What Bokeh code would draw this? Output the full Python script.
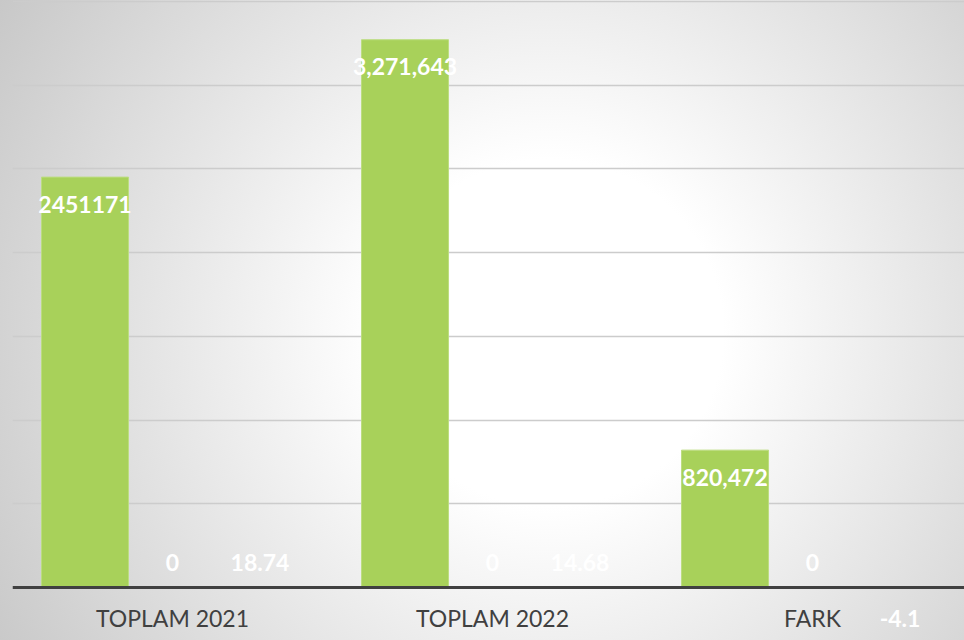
from bokeh.plotting import figure
from bokeh.models import ColumnDataSource, FixedTicker, Range1d, LabelSet
from bokeh.core.properties import value
from bokeh.embed import file_html
from bokeh.resources import INLINE

# ---- data ----
categories = ["TOPLAM 2021", "TOPLAM 2022", "FARK"]
series_a = [2451171, 3271643, 820472]
series_b = [0, 0, 0]
series_c = [18.74, 14.68, -4.1]
labels_a = ["2451171", "3,271,643", "820,472"]
labels_b = ["0", "0", "0"]
labels_c = ["18.74", "14.68", "-4.1"]
y_ticks = [0, 500000, 1000000, 1500000, 2000000, 2500000, 3000000, 3500000]

# ---- layout ----
W, H = 964, 640
GROUP_PX = 320.0
FRAME_LEFT = 12
BASE_PX = 587          # page y of the zero line
frame_w = W - FRAME_LEFT
px_per_unit_y = 586.0 / 3500000.0
y_end = BASE_PX / px_per_unit_y
y_start = -(H - BASE_PX) / px_per_unit_y
x_start = -0.5
x_end = x_start + frame_w / GROUP_PX

offsets = [-0.2734, 0.0, 0.2734]
bar_w = 0.272

GREEN = "#a8d15a"
GREEN_EDGE = "#bcdd80"

p = figure(width=W, height=H, output_backend="svg", toolbar_location=None,
           x_range=Range1d(x_start, x_end), y_range=Range1d(y_start, y_end),
           min_border_left=FRAME_LEFT, min_border_right=0, min_border_top=0,
           min_border_bottom=0)
p.background_fill_alpha = 0
p.border_fill_alpha = 0
p.outline_line_color = None

xs, tops, txt, yoff = [], [], [], []
for s_idx, (vals, labs) in enumerate([(series_a, labels_a), (series_b, labels_b), (series_c, labels_c)]):
    for g, (v, lab) in enumerate(zip(vals, labs)):
        xs.append(g + offsets[s_idx])
        tops.append(v)
        txt.append(lab)
        hpx = v * px_per_unit_y
        if hpx > 40:
            yoff.append(-27)   # inside the bar, below its top
        elif v >= 0:
            yoff.append(25)    # just above the baseline
        else:
            yoff.append(-31)   # below the axis

src = ColumnDataSource(dict(x=xs, top=tops, text=txt, yoff=yoff))

p.vbar(x="x", top="top", bottom=0, width=bar_w, source=src,
       fill_color=GREEN, line_color=GREEN_EDGE, line_width=1)

labels = LabelSet(x="x", y="top", text="text", y_offset="yoff", source=src,
                  text_color="white", text_font=value("Lato"), text_font_style="bold",
                  text_font_size="23px", text_align="center", text_baseline="middle")
p.add_layout(labels)

p.yaxis.visible = False
p.xgrid.visible = False
p.ygrid.ticker = FixedTicker(ticks=y_ticks[1:])
p.ygrid.grid_line_color = "#cccccc"
p.ygrid.grid_line_width = 1.5

xa = p.xaxis[0]
xa.fixed_location = 0
xa.ticker = FixedTicker(ticks=[0, 1, 2])
xa.major_label_overrides = {i: c for i, c in enumerate(categories)}
xa.axis_line_color = "#404040"
xa.axis_line_width = 3
xa.major_tick_line_color = None
xa.minor_tick_line_color = None
xa.major_tick_out = 0
xa.major_tick_in = 0
xa.major_label_standoff = 16
xa.major_label_text_font = "Lato"
xa.major_label_text_font_size = "23px"
xa.major_label_text_color = "#404040"

template = """
{% block preamble %}
<style>
html { min-height: 100%; background: radial-gradient(circle farthest-corner at 57% 52%, #ffffff 0%, #ffffff 27%, #c8c8c8 100%) fixed; }
body { background: transparent; margin: 0; }
</style>
{% endblock %}
"""

open("out.html", "w").write(file_html(p, INLINE, template=template))
